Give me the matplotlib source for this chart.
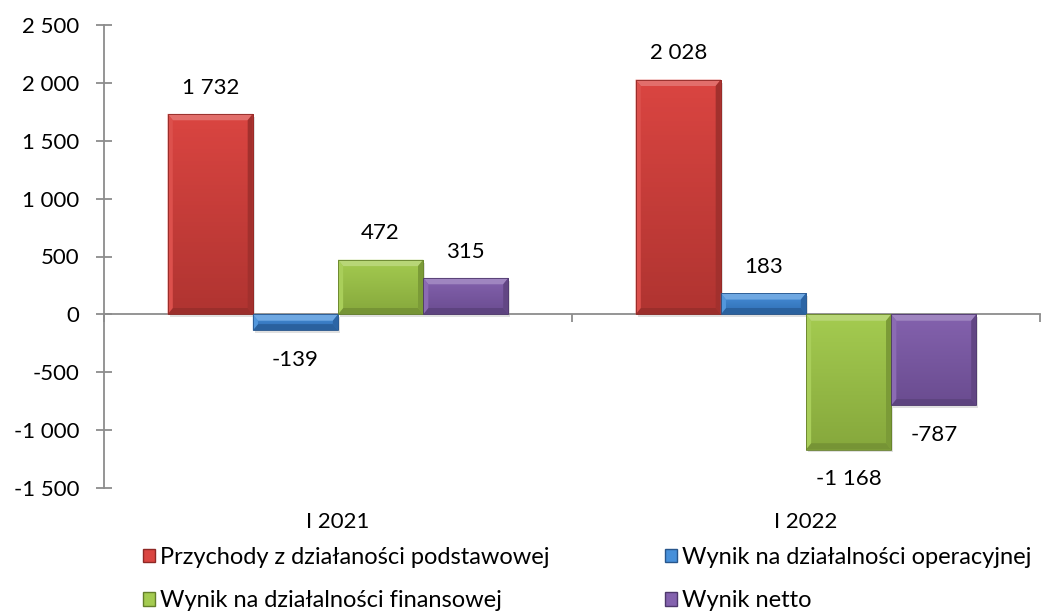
import matplotlib.pyplot as plt
import numpy as np
from matplotlib.colors import LinearSegmentedColormap, to_rgb
from matplotlib.patches import Polygon, Patch

kategorie = ['I 2021', 'I 2022']
serie = ['Przychody z działaności podstawowej',
         'Wynik na działalności operacyjnej',
         'Wynik na działalności finansowej',
         'Wynik netto']
przychody = [1732, 2028]
operacyjna = [-139, 183]
finansowa = [472, -1168]
netto = [315, -787]
wartosci = [przychody, operacyjna, finansowa, netto]
os_y = [-1500, -1000, -500, 0, 500, 1000, 1500, 2000, 2500]

# kolory: gora, dol gradientu, krawedz
kolory = [('#DA4541', '#B03431', '#8E2825'),
          ('#4790DA', '#306EB3', '#28568C'),
          ('#A4CB50', '#86A83C', '#647F2A'),
          ('#8462AE', '#6A4C90', '#4E386C')]

plt.rcParams['font.family'] = ['Lato', 'DejaVu Sans']
plt.rcParams['font.size'] = 16


def fmt(v):
    return f'{v:,}'.replace(',', ' ')


def mix(c, other, t):
    a = np.array(to_rgb(c))
    b = np.array(to_rgb(other))
    return tuple(a * (1 - t) + b * t)


fig = plt.figure(figsize=(10.55, 6.16), dpi=100)
ax = fig.add_axes([104 / 1055, 128 / 616, 936 / 1055, 463 / 616])

x = np.arange(len(kategorie))
w = 0.182
for i, (vals, (c1, c2, ce)) in enumerate(zip(wartosci, kolory)):
    bars = ax.bar(x + (i - 1.5) * w, vals, w, color=c1, edgecolor='none', zorder=3)
    grad = LinearSegmentedColormap.from_list('g', [c2, c1])
    for b, v in zip(bars, vals):
        x0, x1 = b.get_x(), b.get_x() + b.get_width()
        y0, y1 = b.get_y(), b.get_y() + b.get_height()
        lo, hi = min(y0, y1), max(y0, y1)
        # cien
        ax.add_patch(plt.Rectangle((x0 + 0.004, lo - 25), x1 - x0, hi - lo, facecolor='#000000',
                                   alpha=0.12, edgecolor='none', zorder=2.5))
        im = ax.imshow(np.linspace(0, 1, 50).reshape(-1, 1), extent=[x0, x1, lo, hi],
                       origin='lower', aspect='auto', cmap=grad, zorder=3.1)
        im.set_clip_path(b)
        bx = 0.011
        by = min(55, (hi - lo) / 2)
        faces = [
            ([(x0, hi), (x1, hi), (x1 - bx, hi - by), (x0 + bx, hi - by)], mix(c1, 'white', 0.22)),
            ([(x0, lo), (x1, lo), (x1 - bx, lo + by), (x0 + bx, lo + by)], mix(c2, 'black', 0.12)),
            ([(x0, lo), (x0, hi), (x0 + bx, hi - by), (x0 + bx, lo + by)], mix(c1, 'white', 0.06)),
            ([(x1, lo), (x1, hi), (x1 - bx, hi - by), (x1 - bx, lo + by)], mix(c2, 'black', 0.08)),
        ]
        for pts, fc in faces:
            ax.add_patch(Polygon(pts, closed=True, facecolor=fc, edgecolor='none', zorder=3.2))
        ax.add_patch(plt.Rectangle((x0, lo), x1 - x0, hi - lo, fill=False,
                                   edgecolor=ce, linewidth=0.6, zorder=3.3))
        off = 19 if v >= 0 else -21
        ax.annotate(fmt(v), (b.get_x() + b.get_width() / 2, v), xytext=(0, off),
                    textcoords='offset points', ha='center', va='center', fontsize=16)

ax.set_xlim(-0.5, 1.5)
ax.set_ylim(-1500, 2500)
ax.set_yticks(os_y)
ax.set_yticklabels([fmt(v) for v in os_y])

for s in ['top', 'right']:
    ax.spines[s].set_visible(False)
ax.spines['bottom'].set_position(('data', 0))
for s in ['left', 'bottom']:
    ax.spines[s].set_color('#8C8C8C')
    ax.spines[s].set_linewidth(1.3)
ax.tick_params(axis='y', direction='inout', length=11, width=1.3, color='#8C8C8C',
               labelsize=16, pad=12)
ax.set_xticks([-0.5, 0.5, 1.5])
ax.set_xticklabels([])
ax.tick_params(axis='x', direction='out', length=6, width=1.3, color='#8C8C8C')
for xi, k in zip(x, kategorie):
    ax.text(xi, -0.073, k, transform=ax.get_xaxis_transform(), ha='center',
            va='center', fontsize=16)

handles = [Patch(facecolor=kolory[i][0], edgecolor=kolory[i][2], label=serie[i])
           for i in [0, 2, 1, 3]]
fig.legend(handles=handles, loc='center left', bbox_to_anchor=(122 / 1055, 1 - 579 / 616),
           ncol=2, frameon=False, fontsize=17, handlelength=0.5, handleheight=0.5,
           handletextpad=0.2, columnspacing=4.9, labelspacing=0.95)

fig.savefig('out.png', dpi=100)
